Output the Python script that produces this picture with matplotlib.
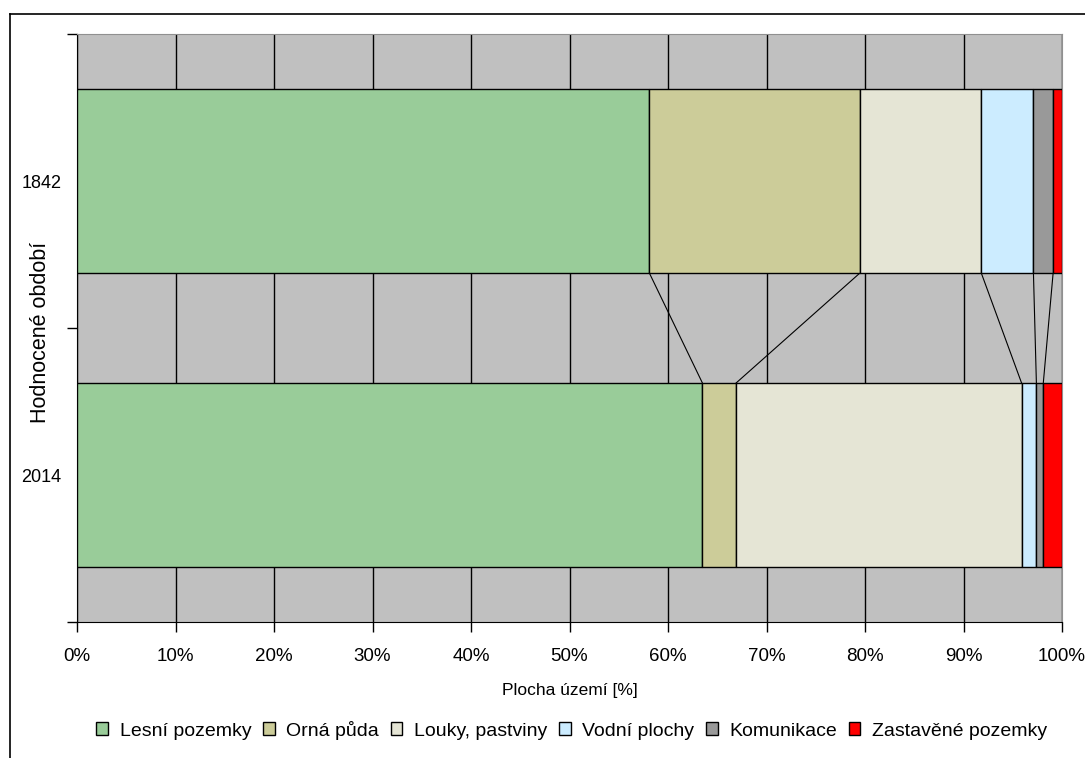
import matplotlib.pyplot as plt
from matplotlib.lines import Line2D
from matplotlib.ticker import PercentFormatter
import numpy as np

plt.rcParams['font.family'] = ['Liberation Sans', 'DejaVu Sans']

# podíly druhů pozemků [%]
periods = ['2014', '1842']
categories = ['Lesní pozemky', 'Orná půda', 'Louky, pastviny', 'Vodní plochy',
              'Komunikace', 'Zastavěné pozemky']
share_2014 = [63.5, 3.4, 29.0, 1.5, 0.7, 1.9]
share_1842 = [58.1, 21.4, 12.3, 5.3, 2.0, 0.9]
colors = ['#99CC99', '#CCCC99', '#E5E5D5', '#CCECFF', '#999999', '#FF0000']

values = np.array([share_2014, share_1842])
bar_h = 0.625

fig = plt.figure(figsize=(10.85, 7.58), dpi=100)
ax = fig.add_axes([77 / 1085, 1 - 622 / 758, 985 / 1085, 588 / 758])
ax.set_facecolor('#C0C0C0')

left = np.zeros(len(periods))
for i, cat in enumerate(categories):
    ax.barh(range(len(periods)), values[:, i], left=left, height=bar_h,
            color=colors[i], edgecolor='black', linewidth=1.0, label=cat, zorder=3)
    left += values[:, i]

# spojnice řad mezi oběma sloupci
cum = np.cumsum(values, axis=1)
for j in range(len(categories) - 1):
    ax.plot([cum[1, j], cum[0, j]], [1 - bar_h / 2, bar_h / 2],
            color='black', linewidth=0.8, zorder=2)

ax.set_xlim(0, 100)
ax.set_ylim(-0.5, 1.5)
ax.set_xticks(np.arange(0, 101, 10))
ax.xaxis.set_major_formatter(PercentFormatter(decimals=0))
ax.grid(axis='x', color='black', linewidth=1.0, zorder=1)
ax.set_axisbelow(True)

ax.set_yticks([-0.5, 0.5, 1.5])
ax.set_yticklabels([])
ax.set_yticks([0, 1], minor=True)
ax.set_yticklabels(periods, minor=True)
ax.tick_params(axis='y', which='minor', length=0, pad=11, labelsize=13)
ax.tick_params(axis='y', which='major', length=7, width=1)
ax.tick_params(axis='x', length=7, width=1, labelsize=13.5, pad=12)

for side in ['top', 'right']:
    ax.spines[side].set_color('#909090')
for side in ['left', 'bottom']:
    ax.spines[side].set_color('black')

ax.set_xlabel('Plocha území [%]', fontsize=12.5)
ax.xaxis.set_label_coords(0.5, -(690 - 622) / 588)
ax.xaxis.label.set_va('center')
ax.set_ylabel('Hodnocené období', fontsize=15.5)
ax.yaxis.set_label_coords(-(77 - 41) / 985, (622 - 332) / 588)
ax.yaxis.label.set_va('center')

handles, labels = ax.get_legend_handles_labels()
fig.legend(handles, labels, loc='center', bbox_to_anchor=(0.527, 1 - 730 / 758),
           ncol=6, frameon=False, fontsize=14, handlelength=0.6, handleheight=0.6,
           handletextpad=0.6, columnspacing=0.6)

# rámeček grafu
fig.add_artist(Line2D([10 / 1085, 10 / 1085], [0, 1 - 14 / 758], color='black', linewidth=1.2))
fig.add_artist(Line2D([10 / 1085, 1], [1 - 14 / 758, 1 - 14 / 758], color='black', linewidth=1.2))

fig.savefig('out.png', dpi=100)
